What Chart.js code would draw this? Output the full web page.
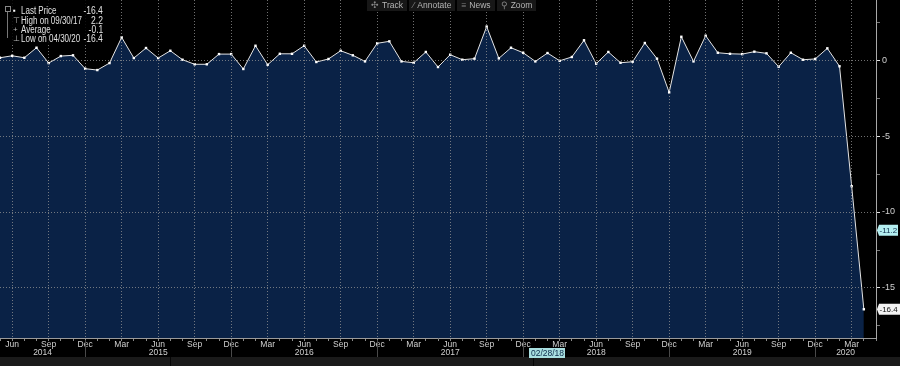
<!DOCTYPE html>
<html><head><meta charset="utf-8">
<script src="https://cdn.jsdelivr.net/npm/chart.js@4/dist/chart.umd.min.js"></script>
<style>
html,body{margin:0;padding:0;background:#000;width:900px;height:366px;overflow:hidden;}
#wrap{position:relative;width:900px;height:366px;}
#band{position:absolute;left:0;top:357px;width:900px;height:9px;background:#1a1a1a;z-index:0;}
canvas{position:absolute;left:0;top:0;z-index:1;}
#legend{position:absolute;left:0;top:0;width:106px;height:44px;background:rgba(0,0,0,0.85);z-index:2;
  font:10px 'Liberation Sans',sans-serif;color:#e2e2e2;}
#legend .row{position:absolute;left:0;width:106px;height:10px;line-height:10px;}
#legend .nm{position:absolute;left:21px;transform:scaleX(0.8);transform-origin:left center;white-space:nowrap;}
#legend .vl{position:absolute;right:3px;transform:scaleX(0.85);transform-origin:right center;white-space:nowrap;}
#legend .ic{position:absolute;left:13px;color:#bbb;font-size:8px;}
#tree{position:absolute;left:7px;top:8px;width:1px;height:30px;background:#777;}
#treebox{position:absolute;left:5px;top:6px;width:4px;height:4px;border:1px solid #888;background:#000;}
#toolbar{position:absolute;left:367px;top:0;height:11px;z-index:2;display:flex;gap:2px;
  font:8.5px 'Liberation Sans',sans-serif;color:#b5b5b5;}
#toolbar span{background:#171717;padding:0 4px;line-height:11px;height:11px;}
#toolbar i{font-style:normal;color:#888;margin-right:3px;}
</style></head>
<body><div id="wrap">
<div id="band"></div>
<canvas id="c" width="900" height="366"></canvas>
<div id="legend">
  <div id="tree"></div><div id="treebox"></div>
  <div class="row" style="top:6px"><span class="ic" style="color:#fff">&#9642;</span><span class="nm">Last Price</span><span class="vl" id="lvLast"></span></div>
  <div class="row" style="top:15.5px"><span class="ic">&#8868;</span><span class="nm">High on <span id="lvHighD"></span></span><span class="vl" id="lvHigh"></span></div>
  <div class="row" style="top:24.5px"><span class="ic">+</span><span class="nm">Average</span><span class="vl" id="lvAvg"></span></div>
  <div class="row" style="top:33.5px"><span class="ic">&#8869;</span><span class="nm">Low on <span id="lvLowD"></span></span><span class="vl" id="lvLow"></span></div>
</div>
<div id="toolbar">
  <span><i>&#10019;</i>Track</span><span><i>&#8260;</i>Annotate</span><span><i>&#8801;</i>News</span><span><i>&#9906;</i>Zoom</span>
</div>
</div>
<script>
// ---- data ----
const months = [
 '2014-05','2014-06','2014-07','2014-08','2014-09','2014-10','2014-11','2014-12',
 '2015-01','2015-02','2015-03','2015-04','2015-05','2015-06','2015-07','2015-08','2015-09','2015-10','2015-11','2015-12',
 '2016-01','2016-02','2016-03','2016-04','2016-05','2016-06','2016-07','2016-08','2016-09','2016-10','2016-11','2016-12',
 '2017-01','2017-02','2017-03','2017-04','2017-05','2017-06','2017-07','2017-08','2017-09','2017-10','2017-11','2017-12',
 '2018-01','2018-02','2018-03','2018-04','2018-05','2018-06','2018-07','2018-08','2018-09','2018-10','2018-11','2018-12',
 '2019-01','2019-02','2019-03','2019-04','2019-05','2019-06','2019-07','2019-08','2019-09','2019-10','2019-11','2019-12',
 '2020-01','2020-02','2020-03','2020-04'
];
const values = [
 0.15, 0.28, 0.15, 0.81, -0.2, 0.26, 0.31, -0.57,
 -0.66, -0.2, 1.49, 0.13, 0.79, 0.13, 0.61, 0.02, -0.28, -0.28, 0.39, 0.39,
 -0.59, 0.94, -0.31, 0.41, 0.41, 0.94, -0.13, 0.07, 0.61, 0.31, -0.09, 1.1,
 1.23, -0.09, -0.18, 0.53, -0.46, 0.35, 0.02, 0.09, 2.2, 0.11, 0.81, 0.48,
 -0.09, 0.46, -0.05, 0.2, 1.3, -0.24, 0.53, -0.18, -0.11, 1.12, 0.09, -2.13,
 1.53, -0.09, 1.6, 0.48, 0.41, 0.39, 0.55, 0.44, -0.44, 0.48, 0.02, 0.07,
 0.77, -0.41, -8.3, -16.4
];
const monthNames = ['Jan','Feb','Mar','Apr','May','Jun','Jul','Aug','Sep','Oct','Nov','Dec'];
const quarterMonths = ['Mar','Jun','Sep','Dec'];
const yTicks = [2.5, 0, -2.5, -5, -7.5, -10, -12.5, -15, -17.5];
const yRange = [-18.29, 3.95];
const crosshairMonth = '2018-02';
const crosshairDateLabel = '02/28/18';
const crosshairValue = -11.2;

// ---- derived ----
const monthOf = i => monthNames[parseInt(months[i].slice(5,7),10)-1];
const endDate = m => { const y=+m.slice(0,4), mo=+m.slice(5,7); const d=new Date(Date.UTC(y,mo,0)).getUTCDate();
  return String(mo).padStart(2,'0')+'/'+d+'/'+m.slice(2,4); };
let hi=0, lo=0;
values.forEach((v,i)=>{ if(v>values[hi]) hi=i; if(v<values[lo]) lo=i; });
const avg = values.reduce((a,b)=>a+b,0)/values.length;
document.getElementById('lvLast').textContent = values[values.length-1].toFixed(1);
document.getElementById('lvHigh').textContent = values[hi].toFixed(1);
document.getElementById('lvHighD').textContent = endDate(months[hi]);
document.getElementById('lvAvg').textContent = avg.toFixed(1);
document.getElementById('lvLow').textContent = values[lo].toFixed(1);
document.getElementById('lvLowD').textContent = endDate(months[lo]);

const FONT = "'Liberation Sans',sans-serif";
const isQuarter = v => Number.isInteger(v) && v < months.length && quarterMonths.includes(monthOf(v));
const noPad = s => { s.paddingTop = 0; s.paddingBottom = 0; s.paddingLeft = 0; s.paddingRight = 0; };

const extras = {
  id:'extras',
  afterDraw(chart){
    const c = chart.ctx, xs = chart.scales.x, ys = chart.scales.y, ca = chart.chartArea;
    c.save();
    // year separators and year labels
    const bounds = [xs.getPixelForValue(0)];
    months.forEach((m,i)=>{ if(m.endsWith('-12')) bounds.push(xs.getPixelForValue(i)); });
    bounds.push(ca.right);
    c.strokeStyle = '#4a4a4a'; c.lineWidth = 1;
    for (let k=1;k<bounds.length-1;k++){
      const x = Math.round(bounds[k])+0.5;
      c.beginPath(); c.moveTo(x, ca.bottom+2); c.lineTo(x, 357); c.stroke();
    }
    const years = [...new Set(months.map(m=>m.slice(0,4)))];
    c.fillStyle = '#d0d0d0'; c.font = '8.5px '+FONT; c.textAlign='center'; c.textBaseline='middle';
    years.forEach((y,k)=>{ c.fillText(y, (bounds[k]+bounds[k+1])/2, 352.5); });
    // panel separator in bottom band
    c.strokeStyle = '#050505';
    c.beginPath(); c.moveTo(170.5,357); c.lineTo(170.5,366); c.stroke();
    // crosshair date tag
    const ci = months.indexOf(crosshairMonth);
    const cx = xs.getPixelForValue(ci);
    c.font = '8.5px '+FONT;
    const tw = c.measureText(crosshairDateLabel).width + 3;
    c.beginPath(); c.moveTo(Math.round(cx-tw/2)+4.5, 357); c.lineTo(Math.round(cx-tw/2)+4.5, 366); c.stroke();
    c.fillStyle = '#a9dfe0'; c.fillRect(Math.round(cx-tw/2), 348, Math.round(tw), 10);
    c.fillStyle = '#0c2a4a'; c.textAlign='center'; c.fillText(crosshairDateLabel, cx, 353.5);
    // right side value tags
    const tag = (val, bg, fg, w) => {
      const y = ys.getPixelForValue(val);
      c.fillStyle = bg;
      c.beginPath();
      c.moveTo(ca.right+1, y); c.lineTo(ca.right+3, y-5.5); c.lineTo(ca.right+3+w, y-5.5);
      c.lineTo(ca.right+3+w, y+5.5); c.lineTo(ca.right+3, y+5.5); c.closePath(); c.fill();
      c.fillStyle = fg; c.textAlign='left'; c.textBaseline='middle'; c.font = '8px '+FONT;
      c.fillText(val.toFixed(1), ca.right+3.5, y+0.5);
    };
    tag(crosshairValue, '#b4eef0', '#0c2a4a', 19);
    tag(values[values.length-1], '#f2f2f2', '#111', 21);
    c.restore();
  }
};

new Chart(document.getElementById('c'), {
  type:'line',
  data:{ datasets:[{
    data: values.map((v,i)=>({x:i, y:v})),
    borderColor:'#e4e4e4', borderWidth:1, tension:0,
    pointStyle:'rect', pointRadius:1.7, pointBackgroundColor:'#ffffff', pointBorderWidth:0,
    fill:'start', backgroundColor:'#0a2246', clip:false
  }]},
  options:{
    responsive:false, animation:false, devicePixelRatio:1,
    layout:{padding:0, autoPadding:false},
    plugins:{legend:{display:false}, tooltip:{enabled:false}},
    scales:{
      x:{
        type:'linear', min:0, max:months.length,
        afterBuildTicks: s => { s.ticks = months.map((m,i)=>({value:i})).concat([{value:months.length}]); },
        afterFit: s => { s.height = 28; noPad(s); },
        ticks:{ autoSkip:false, maxRotation:0, minRotation:0, padding:-1, color:'#d0d0d0',
          font:{family:FONT, size:8.5},
          callback: v => isQuarter(v) ? monthOf(v) : '' },
        grid:{ z:1, lineWidth:1, tickLength:3, drawTicks:true,
          color: c => isQuarter(c.tick && c.tick.value) ? 'rgba(150,150,150,0.75)' : 'rgba(0,0,0,0)',
          tickColor: '#8a8a8a' },
        border:{ display:true, z:2, color:'#9a9a9a', width:1, dash:[1,2] }
      },
      y:{
        position:'right', min:yRange[0], max:yRange[1],
        afterBuildTicks: s => { s.ticks = yTicks.map(v=>({value:v})); },
        afterFit: s => { s.width = 24; noPad(s); },
        ticks:{ padding:2, color:'#d0d0d0', font:{family:FONT, size:9},
          callback: v => (v % 5 === 0) ? String(v === 0 ? 0 : v) : '' },
        grid:{ z:1, lineWidth:1, tickLength:4, drawTicks:true,
          color: c => (c.tick && c.tick.value % 5 === 0) ? 'rgba(150,150,150,0.75)' : 'rgba(0,0,0,0)',
          tickColor: c => (c.tick && c.tick.value % 5 === 0) ? '#e0e0e0' : '#777' },
        border:{ display:true, z:2, color:'#a8a8a8', width:1, dash:[1,2] }
      }
    }
  },
  plugins:[extras]
});
</script>
</body></html>
